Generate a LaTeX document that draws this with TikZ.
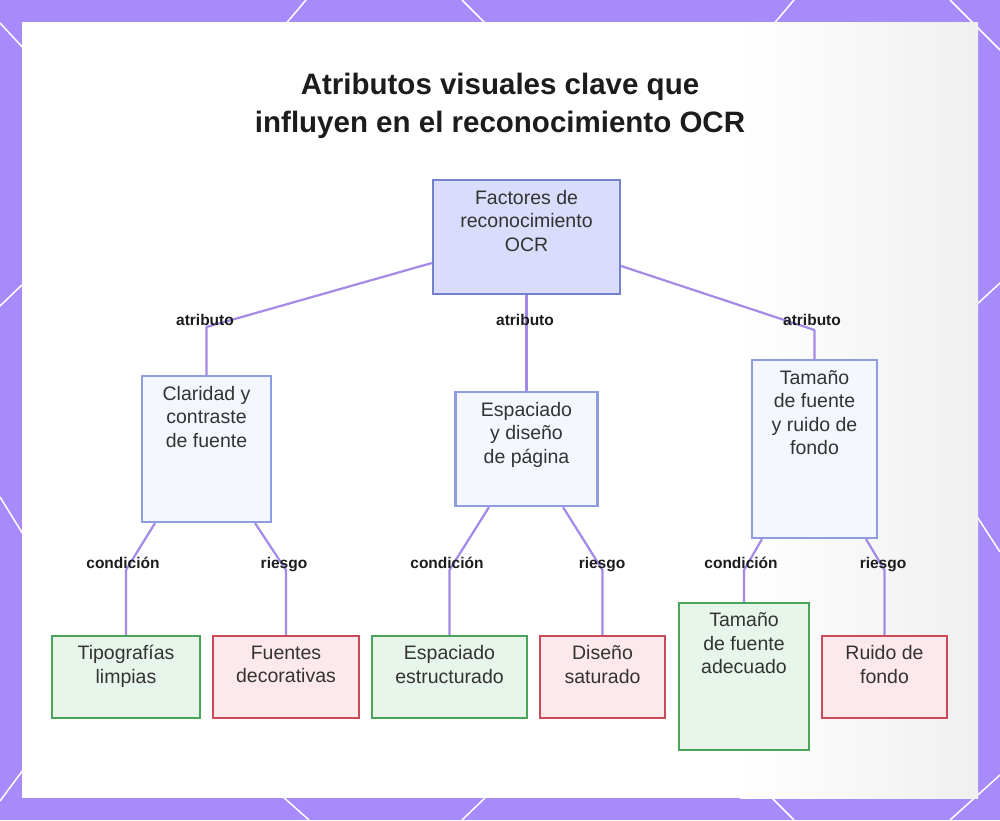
\documentclass[tikz,border=0pt]{standalone}
\usepackage{fontspec}
\setmainfont{Liberation Sans}
\definecolor{bgpurple}{HTML}{A78BFA}
\definecolor{linkc}{HTML}{A48AE6}
\definecolor{rootfill}{HTML}{D9DCFB}
\definecolor{rootdraw}{HTML}{7382CF}
\definecolor{attrfill}{HTML}{F5F7FF}
\definecolor{attrdraw}{HTML}{8E9DE2}
\definecolor{goodfill}{HTML}{E7F5EA}
\definecolor{gooddraw}{HTML}{4AA55B}
\definecolor{badfill}{HTML}{FDE8EC}
\definecolor{baddraw}{HTML}{C94B5A}
\definecolor{txtc}{HTML}{333333}
\definecolor{labc}{HTML}{1C1C1C}
\tikzset{
  basebox/.style={rectangle, line width=2.2pt, inner sep=0pt},
  rootbox/.style={basebox, draw=rootdraw, fill=rootfill},
  attrbox/.style={basebox, draw=attrdraw, fill=attrfill},
  goodbox/.style={basebox, draw=gooddraw, fill=goodfill},
  badbox/.style={basebox, draw=baddraw, fill=badfill},
  boxtext/.style={anchor=north, align=center, inner sep=0pt, text=txtc,
    font=\fontsize{19.5}{23.5}\selectfont},
  edgelabel/.style={anchor=base, inner sep=0pt, text=labc,
    font=\bfseries\fontsize{15.5}{18}\selectfont},
  link/.style={draw=linkc, line width=2.2pt, line join=round},
  lattice/.style={draw=white, line width=1.5pt}
}
\begin{document}
\begin{tikzpicture}[x=1pt,y=-1pt]
\useasboundingbox (0,0) rectangle (1000,820);
% background
\fill[bgpurple] (0,0) rectangle (1000,820);
\draw[lattice] (306,0) -- (284,26);
\draw[lattice] (462,0) -- (488,26);
\draw[lattice] (794,0) -- (772,26);
\draw[lattice] (950,0) -- (1000,50);
\draw[lattice] (0,23) -- (26,51);
\draw[lattice] (0,306) -- (26,281);
\draw[lattice] (0,497) -- (26,539);
\draw[lattice] (0,801) -- (26,766);
\draw[lattice] (1000,283) -- (974,307);
\draw[lattice] (974,512) -- (1000,552);
\draw[lattice] (1000,775) -- (950,820);
\draw[lattice] (281,795) -- (309,820);
\draw[lattice] (488,795) -- (462,820);
\draw[lattice] (769,795) -- (794,820);
% panel
\fill[white] (22,22) rectangle (978,798);
\fill[left color=white, right color=black!6] (740,22) rectangle (978,798);
% title
\node[anchor=north, align=center, inner sep=0pt, text=labc,
  font=\bfseries\fontsize{29.5}{38}\selectfont] (title) at (500,73)
  {Atributos visuales clave que\\influyen en el reconocimiento OCR};
% boxes
\node[rootbox, minimum width=187pt, minimum height=114pt] (root) at (526.5,237) {};
\node[attrbox, minimum width=129pt, minimum height=146pt] (a1) at (206.5,449) {};
\node[attrbox, minimum width=142pt, minimum height=114pt] (a2) at (526.5,449) {};
\node[attrbox, minimum width=125pt, minimum height=178pt] (a3) at (814.5,449) {};
\node[goodbox, minimum width=148pt, minimum height=82pt] (l1) at (126,677) {};
\node[badbox, minimum width=146pt, minimum height=82pt] (l2) at (286,677) {};
\node[goodbox, minimum width=155pt, minimum height=82pt] (l3) at (449.5,677) {};
\node[badbox, minimum width=125pt, minimum height=82pt] (l4) at (602.5,677) {};
\node[goodbox, minimum width=130pt, minimum height=147pt] (l5) at (744,676.5) {};
\node[badbox, minimum width=125pt, minimum height=82pt] (l6) at (884.5,677) {};
% box texts
\node[boxtext] (roott) at ([yshift=-11pt]root.north) {Factores de\\reconocimiento\\OCR};
\node[boxtext] (a1t) at ([yshift=-11pt]a1.north) {Claridad y\\contraste\\de fuente};
\node[boxtext] (a2t) at ([yshift=-11pt]a2.north) {Espaciado\\y diseño\\de página};
\node[boxtext] (a3t) at ([yshift=-11pt]a3.north) {Tamaño\\de fuente\\y ruido de\\fondo};
\node[boxtext] (l1t) at ([yshift=-10.5pt]l1.north) {Tipografías\\limpias};
\node[boxtext] (l2t) at ([yshift=-10.5pt]l2.north) {Fuentes\\decorativas};
\node[boxtext] (l3t) at ([yshift=-10.5pt]l3.north) {Espaciado\\estructurado};
\node[boxtext] (l4t) at ([yshift=-10.5pt]l4.north) {Diseño\\saturado};
\node[boxtext] (l5t) at ([yshift=-10.5pt]l5.north) {Tamaño\\de fuente\\adecuado};
\node[boxtext] (l6t) at ([yshift=-10.5pt]l6.north) {Ruido de\\fondo};
% bend points
\coordinate (k1) at (206.5,327);
\coordinate (k3) at (814.5,330);
\coordinate (k11) at (126,570);
\coordinate (k12) at (286,570);
\coordinate (k21) at (449.5,570);
\coordinate (k22) at (602.5,570);
\coordinate (k31) at (744,570);
\coordinate (k32) at (884.5,570);
% connectors
\draw[link] ([yshift=-26pt]root.west) -- (k1) -- (a1.north);
\draw[link] (root.south) -- (a2.north);
\draw[link] ([yshift=-29pt]root.east) -- (k3) -- (a3.north);
\draw[link] ([xshift=-51.5pt]a1.south) -- (k11) -- (l1.north);
\draw[link] ([xshift=48.5pt]a1.south) -- (k12) -- (l2.north);
\draw[link] ([xshift=-37.5pt]a2.south) -- (k21) -- (l3.north);
\draw[link] ([xshift=36.5pt]a2.south) -- (k22) -- (l4.north);
\draw[link] ([xshift=-52.5pt]a3.south) -- (k31) -- (l5.north);
\draw[link] ([xshift=51.5pt]a3.south) -- (k32) -- (l6.north);
% labels
\node[edgelabel] (lb1) at (205,325) {atributo};
\node[edgelabel] (lb2) at (525,325) {atributo};
\node[edgelabel] (lb3) at (812,325) {atributo};
\node[edgelabel] (lb11) at (123,568) {condición};
\node[edgelabel] (lb12) at (284,568) {riesgo};
\node[edgelabel] (lb21) at (447,568) {condición};
\node[edgelabel] (lb22) at (602,568) {riesgo};
\node[edgelabel] (lb31) at (741,568) {condición};
\node[edgelabel] (lb32) at (883,568) {riesgo};
\end{tikzpicture}
\end{document}
